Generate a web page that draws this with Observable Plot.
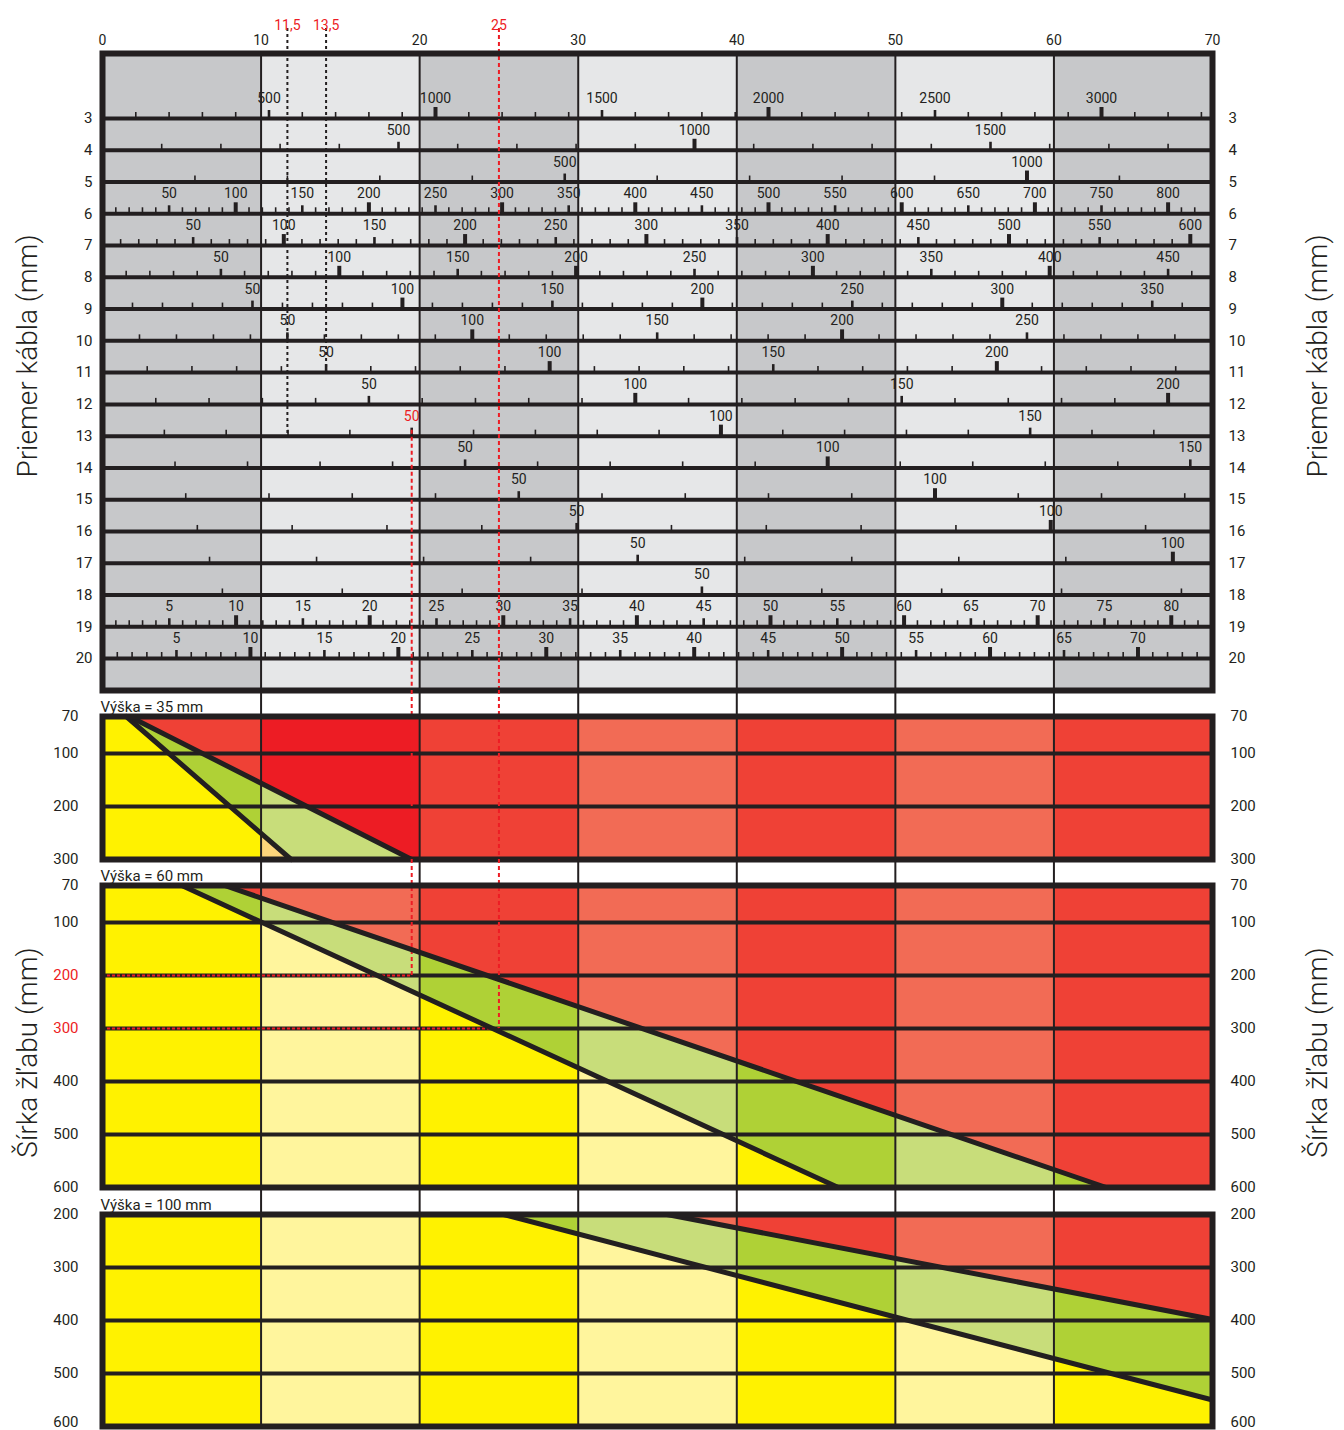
<!DOCTYPE html>
<html><head><meta charset="utf-8">
<script src="https://cdn.jsdelivr.net/npm/d3@7"></script>
<script src="https://cdn.jsdelivr.net/npm/@observablehq/plot@0.6"></script>
<style>
html,body{margin:0;padding:0;background:#fff;overflow:hidden}
#chart{position:relative;width:1344px;height:1430px}
</style></head>
<body><div id="chart"></div>
<script>
// ---------------- DATA ----------------
const xTicks = [0, 10, 20, 30, 40, 50, 60, 70];
const columnStarts = [0, 10, 20, 30, 40, 50, 60];

// cable diameter rows and their count scales (reference count and its x position)
const diameters = [3, 4, 5, 6, 7, 8, 9, 10, 11, 12, 13, 14, 15, 16, 17, 18, 19, 20];
const refCount  = [3000, 1500, 1000, 800, 600, 450, 350, 250, 200, 200, 150, 150, 100, 100, 100, 50, 80, 70];
const refX      = [63.0, 56.0, 58.3, 67.2, 68.6, 67.2, 66.2, 58.3, 56.4, 67.2, 58.5, 68.6, 52.5, 59.8, 67.5, 37.8, 67.4, 65.3];
const minorStep = [100, 100, 100, 10, 10, 10, 10, 10, 10, 10, 10, 10, 10, 10, 10, 10, 1, 1];
const labelStep = [500, 500, 500, 50, 50, 50, 50, 50, 50, 50, 50, 50, 50, 50, 50, 50, 5, 5];
const majorStep = [1000, 1000, 1000, 100, 100, 100, 100, 100, 100, 100, 100, 100, 100, 100, 100, 100, 10, 10];

// black dashed example guides
const guideText = ["11,5", "13,5"];
const guideDiameter = [10, 11];
const guideCount = [50, 50];
const guideEndDiameter = [13, 11];

// red example guides
const redTopText = "25";
const redTopValue = 25;
const redRowDiameter = 13;
const redRowCount = 50;
const redTrayWidths = [300, 200]; // 60 mm panel widths reached by the "25" guide and the 13 mm guide

// tray panels
const panelTitles = ["Výška = 35 mm", "Výška = 60 mm", "Výška = 100 mm"];
const widths35 = [70, 100, 200, 300];
const widths60 = [70, 100, 200, 300, 400, 500, 600];
const widths100 = [200, 300, 400, 500, 600];
const lowerLine35 = [[1.5, 70], [11.9, 300]];
const upperLine35 = [[1.7, 70], [19.5, 300]];
const lowerLine60 = [[5.0, 70], [46.4, 600]];
const upperLine60 = [[7.7, 70], [63.3, 600]];
const lowerLine100 = [[25.3, 200], [70, 550]];
const upperLine100 = [[35.6, 200], [70, 398]];

const titleCable = "Priemer kábla (mm)";
const titleTray = "Šírka žľabu (mm)";

// ---------------- STYLE ----------------
const INK = "#231f20", RED = "#ed1c24";
const GRAY_DARK = "#c7c8ca", GRAY_LIGHT = "#e6e7e8";
const YELLOW = "#fff200", YELLOW_L = "#fff59d", PEACH = "#fdd57b";
const GREEN = "#afd136", GREEN_L = "#c8dd7a";
const REDF = "#ef4136", SALMON = "#f26b55", RED_B = "#ed1c24";
const W = 1344, ML = 102, MR = 132;
const ROW_PX = 53, SHORT_ROW = 0.7; // the 70→100 band is drawn shorter than the 100 mm bands
const FONT = "Roboto, 'Noto Sans', sans-serif";
const TITLE_SIZE = 28;

function svgStyle(top) {
  return {position: "absolute", left: "0px", top: top + "px", overflow: "visible",
    background: "transparent", fontFamily: FONT, fontSize: "14px", color: INK, maxWidth: "none"};
}
const xMax = xTicks[xTicks.length - 1];

// ---------------- TOP NOMOGRAM ----------------
const tickData = [];
diameters.forEach((d, i) => {
  const per = refX[i] / refCount[i];
  for (let n = minorStep[i]; n * per < xMax - 0.3; n += minorStep[i]) {
    tickData.push({d, n, x: n * per,
      kind: n % majorStep[i] === 0 ? "major" : n % labelStep[i] === 0 ? "mid" : "minor"});
  }
});
const perOf = d => { const i = diameters.indexOf(d); return refX[i] / refCount[i]; };
const isRed = t => t.d === redRowDiameter && t.n === redRowCount;
const labelData = tickData.filter(t => t.kind !== "minor");
const guides = guideText.map((t, i) => ({text: t, x: guideCount[i] * perOf(guideDiameter[i]), end: guideEndDiameter[i]}));
const redRowX = redRowCount * perOf(redRowDiameter);
const topRed = [{text: redTopText, x: redTopValue}];

const firstD = diameters[0], lastD = diameters[diameters.length - 1];

const p1 = Plot.plot({
  width: W, height: 690, marginLeft: ML, marginRight: MR, marginTop: 53, marginBottom: 0,
  x: {domain: [xTicks[0], xMax]},
  y: {domain: [firstD, lastD], range: [118, 658]},
  style: svgStyle(0),
  marks: [
    Plot.rect(columnStarts.filter((c, i) => i % 2 === 0), {x1: c => c, x2: c => c + 10, fill: GRAY_DARK}),
    Plot.rect(columnStarts.filter((c, i) => i % 2 === 1), {x1: c => c, x2: c => c + 10, fill: GRAY_LIGHT}),
    Plot.text(labelData.filter(t => !isRed(t)), {x: "x", y: "d", text: t => String(t.n), dy: -20, fontSize: 14, fill: INK}),
    Plot.text(labelData.filter(isRed), {x: "x", y: "d", text: t => String(t.n), dy: -20, fontSize: 14, fill: RED}),
    Plot.ruleX(columnStarts.slice(1), {stroke: INK, strokeWidth: 2}),
    Plot.ruleY(diameters, {stroke: INK, strokeWidth: 4}),
    Plot.ruleX(tickData.filter(t => t.kind === "minor"), {x: "x", y1: "d", y2: "d", insetTop: -6, stroke: INK, strokeWidth: 1.6}),
    Plot.ruleX(tickData.filter(t => t.kind === "mid"), {x: "x", y1: "d", y2: "d", insetTop: -8, stroke: INK, strokeWidth: 2.6}),
    Plot.ruleX(tickData.filter(t => t.kind === "major"), {x: "x", y1: "d", y2: "d", insetTop: -11, stroke: INK, strokeWidth: 4}),
    Plot.ruleX(guides, {x: "x", y1: () => firstD, y2: "end", insetTop: -90, stroke: INK, strokeWidth: 2, strokeDasharray: "3,3"}),
    Plot.ruleX(topRed, {x: "x", y1: () => firstD, y2: () => lastD, insetTop: -90, insetBottom: -32, stroke: RED, strokeWidth: 2, strokeDasharray: "4,3"}),
    Plot.ruleX([redRowX], {x: d => d, y1: () => redRowDiameter, y2: () => lastD, insetTop: -6, insetBottom: -32, stroke: RED, strokeWidth: 2, strokeDasharray: "4,3"}),
    Plot.frame({stroke: INK, strokeWidth: 6}),
    Plot.axisX({anchor: "top", ticks: xTicks, tickSize: 0, tickPadding: 9, fontSize: 14, label: null}),
    Plot.axisY({anchor: "left", ticks: diameters, tickSize: 0, tickPadding: 10, fontSize: 15, label: null}),
    Plot.axisY({anchor: "right", ticks: diameters, tickSize: 0, tickPadding: 16, fontSize: 15, label: null}),
    Plot.text(guides.concat(topRed), {x: "x", text: "text", frameAnchor: "top", dy: -33, fontSize: 14, fill: RED}),
    Plot.text([titleCable], {frameAnchor: "left", textAnchor: "middle", rotate: -90, dx: -74, dy: -16, fontSize: TITLE_SIZE, fontWeight: 300, fill: INK}),
    Plot.text([titleCable], {frameAnchor: "right", textAnchor: "middle", rotate: -90, dx: 106, dy: -16, fontSize: TITLE_SIZE, fontWeight: 300, fill: INK})
  ]
});

// ---------------- TRAY PANELS ----------------
function clipHalf(poly, f) {
  const out = [];
  for (let i = 0; i < poly.length; i++) {
    const P = poly[i], Q = poly[(i + 1) % poly.length];
    const fp = f(P), fq = f(Q);
    if (fp <= 0) out.push(P);
    if ((fp < 0 && fq > 0) || (fp > 0 && fq < 0)) {
      const t = fp / (fp - fq);
      out.push([P[0] + t * (Q[0] - P[0]), P[1] + t * (Q[1] - P[1])]);
    }
  }
  return out;
}

function trayPanel({top, marginTop, widths, lower, upper, title, palette, extra, rightTitle, liftLast}) {
  // band position of each tray width (the 70→100 band is shorter)
  const bandPos = [0];
  for (let i = 1; i < widths.length; i++) bandPos.push(bandPos[i - 1] + (widths[i] - widths[i - 1] < 100 ? SHORT_ROW : 1));
  const pos = d3.scaleLinear(widths, bandPos);
  const last = bandPos[bandPos.length - 1];
  const height = Math.round(marginTop + last * ROW_PX);
  const lineFn = ([[x1, w1], [x2, w2]]) => {
    const p1 = pos(w1), p2 = pos(w2);
    return pt => pt[0] - (x1 + (x2 - x1) * (pt[1] - p1) / (p2 - p1));
  };
  const A = lineFn(lower), B = lineFn(upper);
  const fills = [];
  columnStarts.forEach((c, ci) => {
    const rect = [[c, 0], [c + 10, 0], [c + 10, last], [c, last]];
    const cols = palette(ci);
    const regions = [
      clipHalf(rect, A),
      clipHalf(clipHalf(rect, p => -A(p)), B),
      clipHalf(rect, p => -B(p))
    ];
    regions.forEach((poly, ri) => {
      if (poly.length < 3) return;
      const pts = poly.map(([x, p]) => ({x, p}));
      fills.push(Plot.line(pts, {x: "x", y: "p", curve: "linear-closed", fill: cols[ri], stroke: cols[ri], strokeWidth: 0.6}));
    });
  });
  const toObj = l => l.map(([x, w]) => ({x, p: pos(w)}));
  const redAxis = extra.redAxis || [];
  const lastW = widths[widths.length - 1];
  const lifted = liftLast ? [lastW] : [];
  const plainLeft = widths.filter(w => !redAxis.includes(w) && !lifted.includes(w));
  const plainRight = widths.filter(w => !lifted.includes(w));
  const fmt = p => String(Math.round(pos.invert(p)));
  const axisOpts = {tickSize: 0, tickFormat: fmt, fontSize: 15, label: null};
  return Plot.plot({
    width: W, height, marginLeft: ML, marginRight: MR, marginTop, marginBottom: 0,
    x: {domain: [xTicks[0], xMax], axis: null},
    y: {domain: [0, last], range: [marginTop, height], axis: null},
    style: svgStyle(top),
    marks: [
      ...fills,
      Plot.ruleX(columnStarts.slice(1), {stroke: INK, strokeWidth: 2, insetTop: -marginTop}),
      Plot.ruleY(widths.slice(1, -1), {y: w => pos(w), stroke: INK, strokeWidth: 4}),
      ...(extra.marks ? extra.marks(pos) : []),
      Plot.line(toObj(lower), {x: "x", y: "p", stroke: INK, strokeWidth: 5}),
      Plot.line(toObj(upper), {x: "x", y: "p", stroke: INK, strokeWidth: 5}),
      Plot.frame({stroke: INK, strokeWidth: 6}),
      Plot.axisY({anchor: "left", ticks: plainLeft.map(pos), tickPadding: 24, ...axisOpts}),
      Plot.axisY({anchor: "right", ticks: plainRight.map(pos), tickPadding: 18, ...axisOpts}),
      ...(redAxis.length ? [Plot.axisY({anchor: "left", ticks: redAxis.map(pos), tickPadding: 24, fill: RED, ...axisOpts})] : []),
      ...(lifted.length ? [
        Plot.axisY({anchor: "left", ticks: lifted.map(pos), tickPadding: 24, dy: -4, ...axisOpts}),
        Plot.axisY({anchor: "right", ticks: lifted.map(pos), tickPadding: 18, dy: -4, ...axisOpts})
      ] : []),
      Plot.text([title], {frameAnchor: "top-left", textAnchor: "start", lineAnchor: "bottom", dx: -2, dy: -5, fontSize: 15, fill: INK}),
      ...(rightTitle ? [
        Plot.text([titleTray], {frameAnchor: "left", textAnchor: "middle", rotate: -90, dx: -74, dy: 16, fontSize: TITLE_SIZE, fontWeight: 300, fill: INK}),
        Plot.text([titleTray], {frameAnchor: "right", textAnchor: "middle", rotate: -90, dx: 106, dy: 16, fontSize: TITLE_SIZE, fontWeight: 300, fill: INK})
      ] : [])
    ]
  });
}

const evenOdd = ci => ci % 2 === 0 ? [YELLOW, GREEN, REDF] : [YELLOW_L, GREEN_L, SALMON];
const palette35 = ci => ci === 1 ? [PEACH, GREEN_L, RED_B] : evenOdd(ci);

const redGuideXs = [redTopValue, redRowX];
const redDash = {stroke: RED, strokeWidth: 2, strokeDasharray: "4,3"};

const p2 = trayPanel({top: 690, marginTop: 26, widths: widths35, lower: lowerLine35, upper: upperLine35,
  title: panelTitles[0], palette: palette35,
  extra: {marks: () => [Plot.ruleX(redGuideXs, {x: d => d, insetTop: -26, ...redDash})]}});

const redEx = redGuideXs.map((x, i) => ({x, w: redTrayWidths[i]}));
const p3 = trayPanel({top: 859, marginTop: 26, widths: widths60, lower: lowerLine60, upper: upperLine60,
  title: panelTitles[1], palette: evenOdd, rightTitle: true,
  extra: {
    redAxis: redTrayWidths,
    marks: pos => [
      Plot.ruleX(redEx, {x: "x", y1: () => pos(widths60[0]), y2: d => pos(d.w), insetTop: -26, ...redDash}),
      Plot.ruleY(redEx, {y: d => pos(d.w), x1: () => xTicks[0], x2: "x", stroke: RED, strokeWidth: 2, strokeDasharray: "3,2"})
    ]
  }});

const p4 = trayPanel({top: 1187, marginTop: 27, widths: widths100, lower: lowerLine100, upper: upperLine100,
  title: panelTitles[2], palette: evenOdd, extra: {}, liftLast: true});

const chart = document.getElementById("chart");
[p1, p2, p3, p4].forEach(p => chart.appendChild(p));
</script>
</body></html>
